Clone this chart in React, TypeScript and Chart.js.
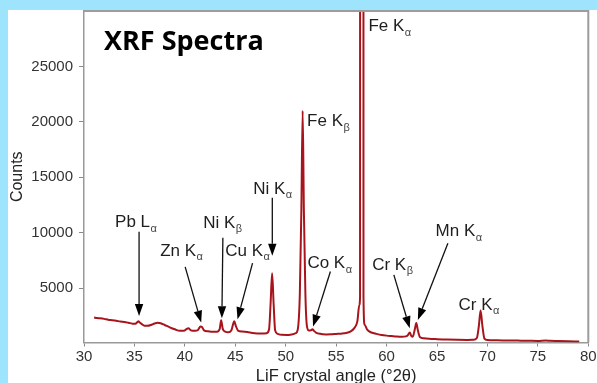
import React, { useEffect, useRef } from 'react';
import { Chart, registerables } from 'chart.js';

Chart.register(...registerables);

// ---- Data ----
const angles = [
  31.0, 31.3, 31.6, 32.0, 32.4, 32.8, 33.2, 33.6, 34.0, 34.4, 34.8, 35.1, 35.3, 35.4, 35.5, 35.7,
  36.0, 36.3, 36.7, 37.0, 37.3, 37.6, 38.0, 38.5, 39.0, 39.5, 39.9, 40.2, 40.35, 40.6, 41.0, 41.3,
  41.55, 41.7, 41.9, 42.3, 42.8, 43.2, 43.45, 43.6, 43.75, 44.0, 44.3, 44.6, 44.8, 44.9, 45.05, 45.3,
  45.7, 46.2, 46.7, 47.2, 47.7, 48.1, 48.35, 48.5, 48.65, 48.8, 48.95, 49.2, 49.6, 50.1, 50.6, 51.0,
  51.2, 51.4, 51.55, 51.68, 51.8, 51.95, 52.1, 52.3, 52.5, 52.65, 52.8, 53.0, 53.4, 54.0, 54.5, 55.0,
  55.5, 56.0, 56.4, 56.8, 57.1, 57.3, 57.37, 57.39, 57.69, 57.71, 57.82, 58.1, 58.5, 59.0, 59.5, 60.0,
  60.5, 61.0, 61.5, 61.9, 62.1, 62.3, 62.45, 62.6, 62.8, 62.95, 63.1, 63.3, 63.7, 64.2, 65.0, 66.0,
  67.0, 68.0, 68.6, 68.95, 69.15, 69.32, 69.5, 69.7, 70.0, 71.0, 72.0, 73.0, 74.0, 75.0, 75.8, 76.2,
  77.0, 78.0, 79.1,
];
const counts = [
  2350, 2300, 2280, 2230, 2150, 2110, 2060, 1990, 1950, 1880, 1800, 1790, 1950, 2010, 1920, 1780,
  1610, 1600, 1700, 1820, 1880, 1840, 1680, 1470, 1290, 1150, 1160, 1330, 1380, 1200, 1150, 1230,
  1540, 1500, 1190, 1110, 1070, 1080, 1300, 2100, 1350, 1080, 1020, 1180, 1800, 2020, 1600, 1150,
  1090, 1040, 960, 920, 910, 940, 1300, 3600, 6350, 3600, 1200, 880, 790, 780, 830, 940,
  1300, 4500, 12000, 21000, 12000, 4500, 1600, 1180, 1200, 1300, 1150, 1000, 880, 830, 840, 870,
  900, 960, 1080, 1400, 2000, 3500, 4200, 150000, 150000, 4200, 1700, 1230, 1000, 880, 780, 720,
  680, 640, 620, 650, 760, 1000, 700, 620, 1300, 1850, 1200, 600, 480, 440, 400, 360,
  340, 330, 340, 500, 1600, 2980, 1600, 450, 320, 300, 280, 270, 260, 245, 280, 250,
  240, 220, 185,
];

const xTickValues = [30, 35, 40, 45, 50, 55, 60, 65, 70, 75, 80];
const yTickValues = [5000, 10000, 15000, 20000, 25000];

const chartTitle = 'XRF Spectra';
const xAxisTitle = 'LiF crystal angle (°2θ)';
const yAxisTitle = 'Counts';

// Peak annotations: label, subscript, label anchor (data coords), optional arrow (data coords)
const peakNames = ['Pb L', 'Zn K', 'Ni K', 'Cu K', 'Ni K', 'Co K', 'Cr K', 'Mn K', 'Cr K', 'Fe K', 'Fe K'];
const peakSubs = ['α', 'α', 'β', 'α', 'α', 'α', 'β', 'α', 'α', 'β', 'α'];
const labelX = [33.08, 37.55, 41.82, 44.0, 46.78, 52.15, 58.57, 64.86, 67.14, 52.12, 58.2];
const labelY = [10920, 8366, 10893, 8366, 13962, 7256, 7103, 10108, 3493, 20036, 28609];
const arrowFrom: ([number, number] | null)[] = [
  [35.46, 10081], [40.03, 6922], [43.77, 9540], [46.71, 7256], [48.67, 13150],
  [54.43, 6498], [60.72, 6200], [66.08, 9061], null, null, null,
];
const arrowTo: ([number, number] | null)[] = [
  [35.46, 2500], [41.62, 1895], [43.67, 2292], [45.22, 2202], [48.67, 7915],
  [52.71, 1534], [62.30, 1390], [63.10, 2139], null, null, null,
];

const FONT = '"Liberation Sans", Arial, Helvetica, sans-serif';

const overlayPlugin = {
  id: 'overlay',
  afterDatasetsDraw(chart: any) {
    const { ctx, chartArea, scales } = chart;
    const xs = scales.x;
    const ys = scales.y;
    ctx.save();
    // frame (top and right)
    ctx.strokeStyle = '#9c9c9c';
    ctx.lineWidth = 2;
    ctx.beginPath();
    ctx.moveTo(chartArea.left, chartArea.top);
    ctx.lineTo(chartArea.right, chartArea.top);
    ctx.lineTo(chartArea.right, chartArea.bottom);
    ctx.stroke();

    // title
    ctx.fillStyle = '#000';
    ctx.font = 'bold 27px "Open Sans", sans-serif';
    ctx.textBaseline = 'alphabetic';
    ctx.textAlign = 'left';
    ctx.fillText(chartTitle, chartArea.left + 20, 40);

    // annotations
    for (let i = 0; i < peakNames.length; i++) {
      const tx = xs.getPixelForValue(labelX[i]);
      const ty = ys.getPixelForValue(labelY[i]);
      ctx.fillStyle = '#1e1e1e';
      ctx.font = `17px ${FONT}`;
      ctx.textBaseline = 'middle';
      ctx.fillText(peakNames[i], tx, ty);
      const w = ctx.measureText(peakNames[i]).width;
      ctx.font = `11px ${FONT}`;
      ctx.fillStyle = '#444';
      ctx.fillText(peakSubs[i], tx + w + 0.5, ty + 6.5);

      const f = arrowFrom[i];
      const t = arrowTo[i];
      if (f && t) {
        const x1 = xs.getPixelForValue(f[0]);
        const y1 = ys.getPixelForValue(f[1]);
        const x2 = xs.getPixelForValue(t[0]);
        const y2 = ys.getPixelForValue(t[1]);
        const ang = Math.atan2(y2 - y1, x2 - x1);
        const hl = 12;
        const hw = 4.2;
        const bx = x2 - hl * Math.cos(ang);
        const by = y2 - hl * Math.sin(ang);
        ctx.strokeStyle = '#111';
        ctx.lineWidth = 1.3;
        ctx.beginPath();
        ctx.moveTo(x1, y1);
        ctx.lineTo(bx, by);
        ctx.stroke();
        ctx.fillStyle = '#000';
        ctx.beginPath();
        ctx.moveTo(x2, y2);
        ctx.lineTo(bx + hw * Math.sin(ang), by - hw * Math.cos(ang));
        ctx.lineTo(bx - hw * Math.sin(ang), by + hw * Math.cos(ang));
        ctx.closePath();
        ctx.fill();
      }
    }
    ctx.restore();
  },
};

export default function App() {
  const canvasRef = useRef<HTMLCanvasElement | null>(null);

  useEffect(() => {
    const canvas = canvasRef.current;
    if (!canvas) return;
    const points = angles.map((a, i) => ({ x: a, y: counts[i] }));
    const chart = new Chart(canvas, {
      type: 'line',
      data: {
        datasets: [
          {
            data: points,
            borderColor: '#a8141b',
            borderWidth: 2,
            pointRadius: 0,
            cubicInterpolationMode: 'monotone',
            fill: false,
          },
        ],
      },
      options: {
        animation: false,
        responsive: false,
        devicePixelRatio: 1,
        layout: { padding: { left: 0, top: 1, right: 8.7, bottom: 0 } },
        plugins: { legend: { display: false }, tooltip: { enabled: false } },
        scales: {
          x: {
            type: 'linear',
            min: 30,
            max: 80,
            afterBuildTicks: (scale: any) => {
              scale.ticks = xTickValues.map((v) => ({ value: v }));
            },
            afterFit: (scale: any) => {
              scale.height = 43.5;
              scale.paddingLeft = 0;
              scale.paddingRight = 0;
            },
            ticks: {
              color: '#333',
              font: { family: FONT, size: 15 },
              padding: 1,
              maxRotation: 0,
              autoSkip: false,
              callback: (v: any) => String(v),
            },
            grid: { display: true, drawOnChartArea: false, drawTicks: true, tickLength: 4, color: '#888' },
            border: { display: true, color: '#999', width: 1.5 },
            title: {
              display: true,
              text: xAxisTitle,
              color: '#222',
              font: { family: FONT, size: 16.5 },
              padding: { top: 0, bottom: 0 },
            },
          },
          y: {
            type: 'linear',
            min: 100,
            max: 30000,
            afterBuildTicks: (scale: any) => {
              scale.ticks = yTickValues.map((v) => ({ value: v }));
            },
            afterFit: (scale: any) => {
              scale.width = 76;
              scale.paddingTop = 0;
              scale.paddingBottom = 0;
            },
            ticks: {
              color: '#333',
              font: { family: FONT, size: 15 },
              padding: 6,
              autoSkip: false,
              callback: (v: any) => String(v),
            },
            grid: { display: true, drawOnChartArea: false, drawTicks: true, tickLength: 5, color: '#888' },
            border: { display: true, color: '#999', width: 1.5 },
            title: {
              display: true,
              text: yAxisTitle,
              color: '#222',
              font: { family: FONT, size: 16 },
              padding: { top: 0, bottom: 0 },
            },
          },
        },
      },
      plugins: [overlayPlugin],
    } as any);
    return () => chart.destroy();
  }, []);

  return (
    <div
      style={{
        position: 'fixed',
        left: 0,
        top: 0,
        width: 597,
        height: 383,
        overflow: 'hidden',
        background: 'rgb(158, 228, 252)',
      }}
    >
      <div style={{ position: 'absolute', left: 8, top: 10, width: 589, height: 376, background: '#fff' }}>
        <canvas ref={canvasRef} width={589} height={376} style={{ display: 'block', width: 589, height: 376 }} />
      </div>
    </div>
  );
}
